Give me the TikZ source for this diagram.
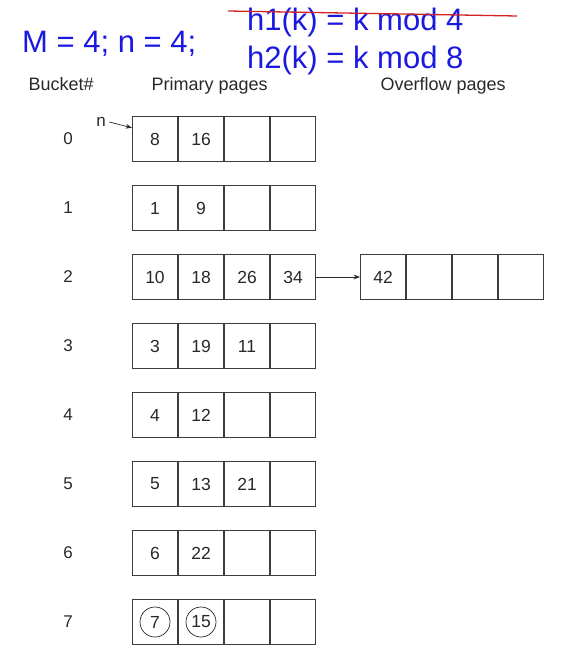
\documentclass[tikz,border=0pt]{standalone}
\usepackage{fontspec}
\setmainfont{Liberation Sans}
\usetikzlibrary{positioning, arrows.meta, calc}
\definecolor{formula}{RGB}{25,25,225}
\definecolor{strike}{RGB}{210,35,35}
\definecolor{ink}{RGB}{40,40,40}
\tikzset{
  cell/.style={draw=ink!90, line width=0.9pt, minimum width=45.1pt, minimum height=45.5pt, inner sep=0pt, text=ink, font=\fontsize{17.5}{19}\selectfont},
  bnum/.style={text=ink, font=\fontsize{17}{19}\selectfont},
  hdr/.style={anchor=base west, text=ink, font=\fontsize{18}{20}\selectfont},
  hfun/.style={anchor=base west, text=formula, inner sep=0pt, font=\fontsize{31}{33}\selectfont},
  mark7/.style={circle, draw=ink, line width=0.7pt, minimum size=30pt, inner sep=0pt, text=ink, font=\fontsize{17.5}{19}\selectfont},
  arr/.style={-{Stealth[length=2.2mm]}, line width=0.7pt, draw=ink},
}
\begin{document}
\begin{tikzpicture}[x=1pt, y=-1pt]
\useasboundingbox (0,0) rectangle (579,658);
% formulas
\node[hfun] (mn) at (22,53) {M = 4; n = 4;};
\node[hfun] (h1) at (247,31) {h1(k) = k mod 4};
\node[hfun] (h2) at (247,69) {h2(k) = k mod 8};
\coordinate (s1) at (228,11);
\coordinate (s2) at (517,16);
\draw[strike, line width=1.3pt] (s1) -- (s2);
% headers
\node[hdr] (hb) at (25,91) {Bucket\#};
\node[hdr] (hp) at (148,91) {Primary pages};
\node[hdr] (ho) at (377,91) {Overflow pages};
% buckets
\foreach \r/\a/\b/\c/\d in {0/8/16//, 1/1/9//, 2/10/18/26/34, 3/3/19/11/, 4/4/12//, 5/5/13/21/, 6/6/22//, 7////} {
  \node[bnum] (k\r) at (68,139+69*\r) {\r};
  \node[cell] (p\r-1) at (155,139+69*\r) {\a};
  \node[cell, right=0pt of p\r-1] (p\r-2) {\b};
  \node[cell, right=0pt of p\r-2] (p\r-3) {\c};
  \node[cell, right=0pt of p\r-3] (p\r-4) {\d};
}
\node[mark7] (c7) at (p7-1) {7};
\node[mark7] (c15) at (p7-2) {15};
% overflow
\node[cell, right=44pt of p2-4] (o1) {42};
\node[cell, right=0pt of o1] (o2) {};
\node[cell, right=0pt of o2] (o3) {};
\node[cell, right=0pt of o3] (o4) {};
\draw[arr] (p2-4) -- (o1);
% split pointer
\node[text=ink, font=\fontsize{17}{19}\selectfont] (n) at (101,122) {n};
\draw[arr] (n.east) -- ($(p0-1.north west)+(0,12)$);
\end{tikzpicture}
\end{document}
